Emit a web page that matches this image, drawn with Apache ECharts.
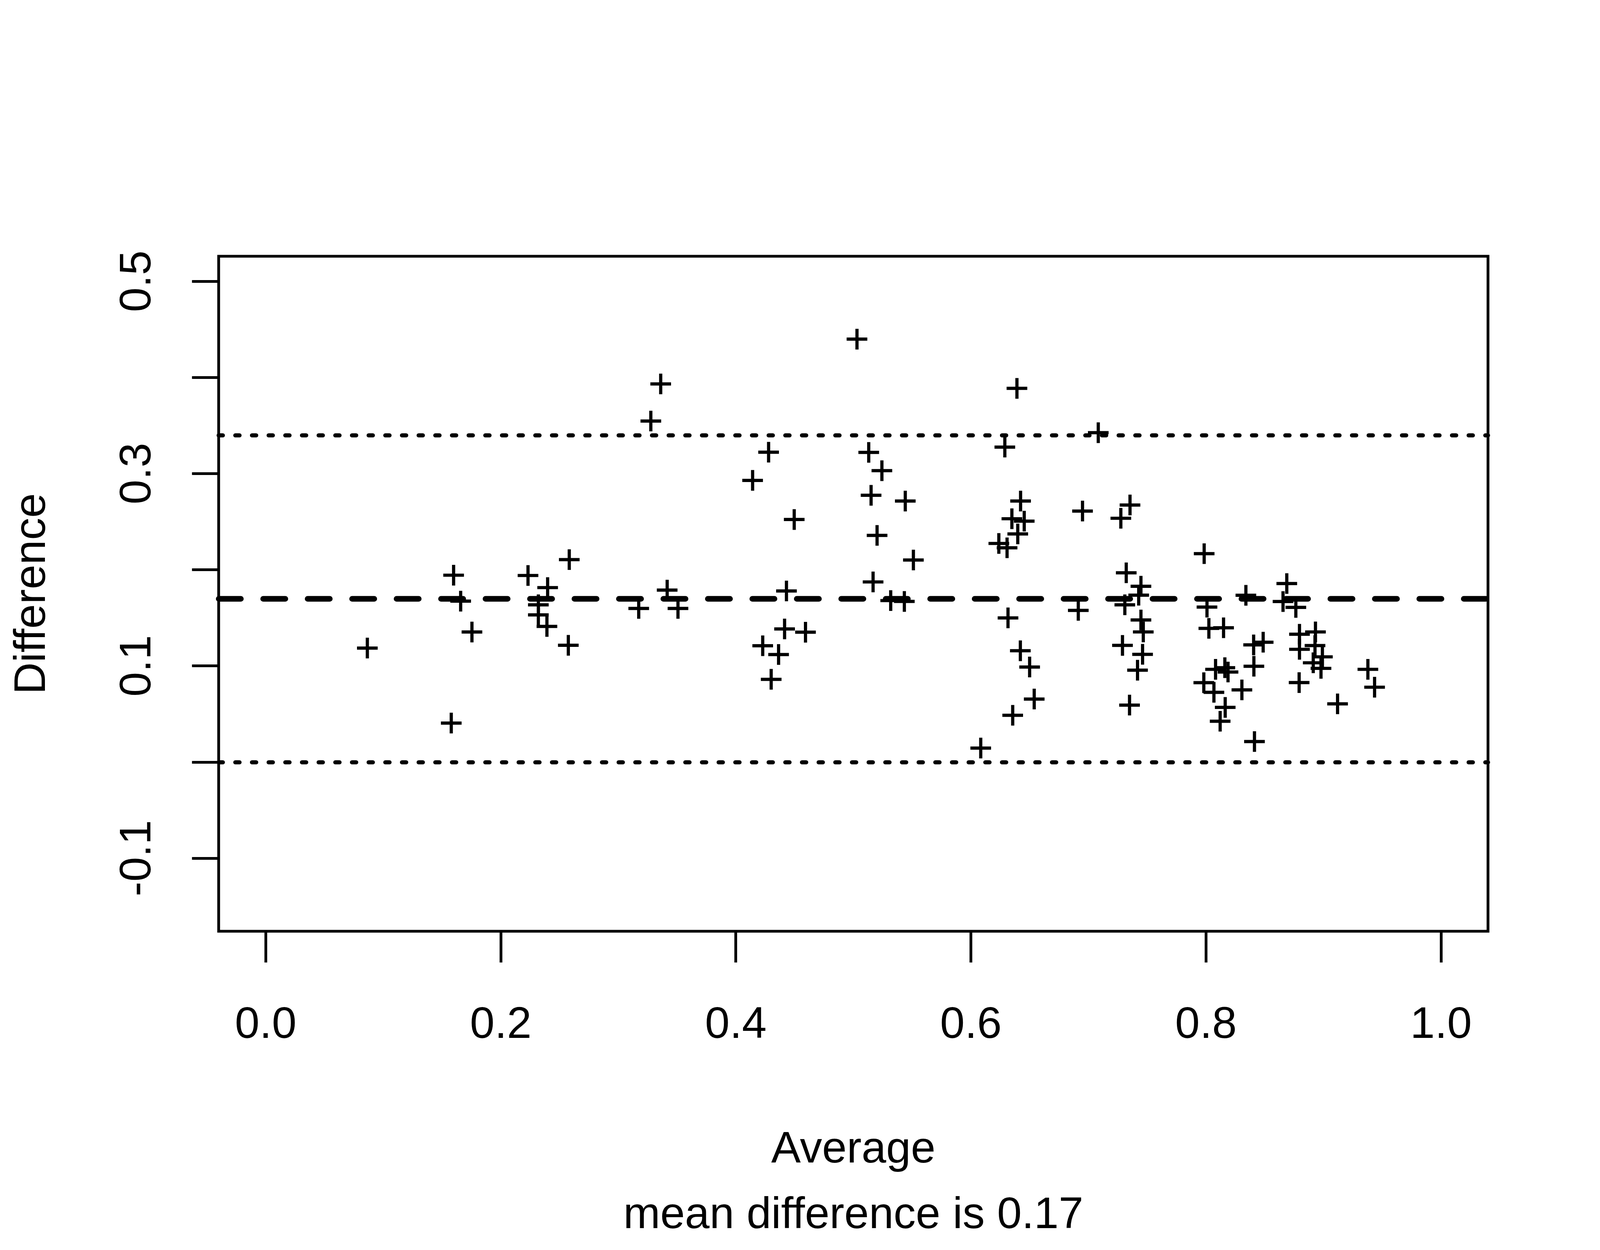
<!DOCTYPE html>
<html>
<head>
<meta charset="utf-8">
<script src="https://cdn.jsdelivr.net/npm/echarts@6/dist/echarts.min.js"></script>
<style>
html,body{margin:0;padding:0;background:#ffffff;overflow:hidden;}
#chart{position:absolute;left:0;top:0;}
</style>
</head>
<body>
<div id="chart"></div>
<script>
// ---- data ----
const averages = [
  0.0865, 0.1599, 0.1659, 0.1755, 0.1579, 0.2232, 0.2399, 0.2320, 0.2320, 0.2393, 0.2583, 0.2575,
  0.3174, 0.3277, 0.3361, 0.3416, 0.3508, 0.4279, 0.4143, 0.4497, 0.4431, 0.4415, 0.4593, 0.4229, 0.4364, 0.4301,
  0.5031, 0.5131, 0.5243, 0.5151, 0.5442, 0.5202, 0.5511, 0.5168, 0.5318, 0.5434, 0.6084,
  0.6392, 0.6289, 0.7084, 0.6950, 0.6423, 0.6349, 0.6454, 0.6399, 0.6238, 0.6308, 0.6316, 0.6421, 0.6500, 0.6539, 0.6356, 0.6914,
  0.7354, 0.7276, 0.7322, 0.7447, 0.7428, 0.7310, 0.7447, 0.7467, 0.7290, 0.7461, 0.7418, 0.7350,
  0.7985, 0.8009, 0.8025, 0.8150, 0.8340, 0.7982, 0.8082, 0.8068, 0.8161, 0.8188, 0.8164, 0.8121, 0.8306, 0.8406, 0.8487, 0.8408, 0.8413,
  0.8688, 0.8656, 0.8765, 0.8796, 0.8796, 0.8793, 0.8932, 0.8928, 0.8913, 0.8991, 0.8979, 0.9120, 0.9378, 0.9435
];
const differences = [
  0.1185, 0.1943, 0.1673, 0.1352, 0.0405, 0.1940, 0.1814, 0.1635, 0.1530, 0.1410, 0.2105, 0.1214,
  0.1597, 0.3546, 0.3932, 0.1788, 0.1597, 0.3222, 0.2929, 0.2522, 0.1779, 0.1384, 0.1350, 0.1209, 0.1118, 0.0860,
  0.4398, 0.3220, 0.3030, 0.2774, 0.2714, 0.2357, 0.2101, 0.1873, 0.1679, 0.1670, 0.0145,
  0.3886, 0.3275, 0.3425, 0.2610, 0.2714, 0.2530, 0.2505, 0.2372, 0.2273, 0.2228, 0.1499, 0.1157, 0.0988, 0.0655, 0.0486, 0.1577,
  0.2673, 0.2535, 0.1968, 0.1828, 0.1735, 0.1635, 0.1477, 0.1353, 0.1213, 0.1120, 0.0955, 0.0592,
  0.2167, 0.1611, 0.1390, 0.1396, 0.1734, 0.0825, 0.0964, 0.0725, 0.0981, 0.0936, 0.0568, 0.0424, 0.0750, 0.1218, 0.1246, 0.0996, 0.0213,
  0.1856, 0.1669, 0.1608, 0.1329, 0.1172, 0.0826, 0.1353, 0.1211, 0.1032, 0.1094, 0.0974, 0.0605, 0.0964, 0.0778
];
const meanDifference = 0.168;
const upperLimit = 0.336;
const lowerLimit = 0.0;
const xTickValues = [0.0, 0.2, 0.4, 0.6, 0.8, 1.0];
const yTickValues = [-0.1, 0.0, 0.1, 0.2, 0.3, 0.4, 0.5];
const yLabelValues = [-0.1, 0.1, 0.3, 0.5];
const xAxisTitle = 'Average';
const yAxisTitle = 'Difference';
const subTitle = 'mean difference is 0.17';

// ---- layout: designed for 4800x3200, scaled to the actual window ----
const W = window.innerWidth || 4800;
const H = window.innerHeight || 3200;
const kx = W / 4800, ky = H / 3200, k = Math.min(kx, ky);
const el = document.getElementById('chart');
el.style.width = W + 'px';
el.style.height = H + 'px';

const FONT = '"Liberation Sans", Arial, Helvetica, sans-serif';
const FS = 133 * k;
const LW = 8.33 * k;
const points = averages.map((a, i) => [a, differences[i]]);
const plusPath = 'path://M0,26.2 L26.2,26.2 L26.2,0 L35.8,0 L35.8,26.2 L62,26.2 L62,35.8 L35.8,35.8 L35.8,62 L26.2,62 L26.2,35.8 L0,35.8 Z';

const chart = echarts.init(el, null, {renderer: 'canvas'});
chart.setOption({
  animation: false,
  backgroundColor: '#ffffff',
  grid: {
    left: 656 * kx, right: 336 * kx, top: 656 * ky, bottom: 816 * ky,
    show: true, borderColor: '#000000', borderWidth: LW, backgroundColor: 'transparent',
    containLabel: false, outerBoundsMode: 'none'
  },
  xAxis: {
    type: 'value', min: -0.04, max: 1.04,
    axisLine: {show: false, onZero: false},
    splitLine: {show: false},
    axisTick: {show: true, inside: false, length: 80 * ky, customValues: xTickValues, lineStyle: {color: '#000', width: LW}},
    axisLabel: {
      show: true, customValues: xTickValues, margin: 242 * ky,
      color: '#000', fontFamily: FONT, fontSize: FS, align: 'center', verticalAlign: 'middle',
      formatter: v => Number(v).toFixed(1)
    }
  },
  yAxis: {
    type: 'value', min: -0.176, max: 0.526,
    axisLine: {show: false, onZero: false},
    splitLine: {show: false},
    axisTick: {show: true, inside: false, length: 80 * kx, customValues: yTickValues, lineStyle: {color: '#000', width: LW}},
    axisLabel: {
      show: true, customValues: yLabelValues, margin: 242 * kx, rotate: 90,
      color: '#000', fontFamily: FONT, fontSize: FS, align: 'center', verticalAlign: 'middle',
      formatter: v => Number(v).toFixed(1)
    }
  },
  series: [{
    type: 'scatter',
    data: points,
    symbol: plusPath,
    symbolSize: 62 * k,
    itemStyle: {color: '#000000', opacity: 1},
    emphasis: {disabled: true},
    silent: true,
    markLine: {
      silent: true,
      animation: false,
      symbol: ['none', 'none'],
      label: {show: false},
      emphasis: {disabled: true},
      data: [
        {yAxis: meanDifference, lineStyle: {color: '#000', width: 16.7 * k, type: [66.7 * k, 66.7 * k], cap: 'round'}},
        {yAxis: upperLimit, lineStyle: {color: '#000', width: 12.5 * k, type: [12.5 * k, 37.5 * k], cap: 'round'}},
        {yAxis: lowerLimit, lineStyle: {color: '#000', width: 12.5 * k, type: [12.5 * k, 37.5 * k], cap: 'round'}}
      ]
    }
  }],
  graphic: [
    {type: 'text', x: 2560 * kx, y: 2945 * ky, silent: true,
     style: {text: xAxisTitle, font: FS + 'px ' + FONT, fill: '#000', textAlign: 'center', textVerticalAlign: 'middle', align: 'center', verticalAlign: 'middle'}},
    {type: 'text', x: 2560 * kx, y: 3113 * ky, silent: true,
     style: {text: subTitle, font: FS + 'px ' + FONT, fill: '#000', textAlign: 'center', textVerticalAlign: 'middle', align: 'center', verticalAlign: 'middle'}},
    {type: 'text', x: 98 * kx, y: 1520 * ky, rotation: Math.PI / 2, silent: true,
     style: {text: yAxisTitle, font: FS + 'px ' + FONT, fill: '#000', textAlign: 'center', textVerticalAlign: 'middle', align: 'center', verticalAlign: 'middle'}}
  ]
});
</script>
</body>
</html>
